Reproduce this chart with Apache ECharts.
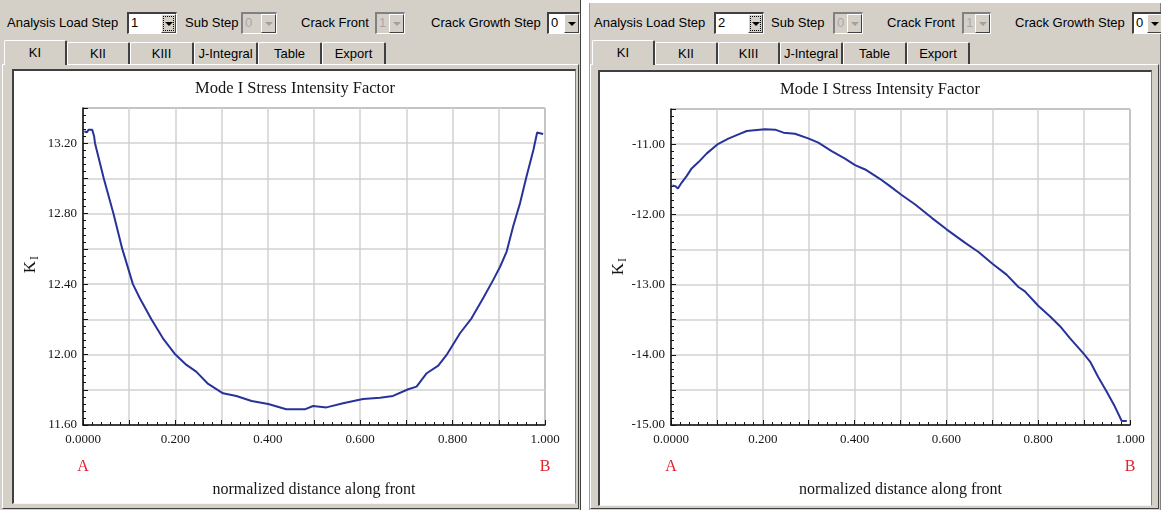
<!DOCTYPE html>
<html>
<head>
<meta charset="utf-8">
<script src="https://cdn.jsdelivr.net/npm/echarts@6/dist/echarts.min.js"></script>
<style>
  html, body { margin: 0; padding: 0; background: #ffffff; }
  #stage { position: relative; width: 1161px; height: 510px; overflow: hidden; }
  .panel { position: absolute; background: #d4d0c8; box-sizing: border-box; }
  .lbl { position: absolute; top: 15px; font: 13px "Liberation Sans", Arial, sans-serif; color: #000; line-height: 16px; white-space: nowrap; }
  .combo { position: absolute; top: 12px; height: 22px; box-sizing: border-box; background: #fff;
           border-top: 2px solid #404040; border-left: 2px solid #404040; border-right: 1px solid #ffffff; border-bottom: 1px solid #ffffff;
           font: 13px "Liberation Sans", Arial, sans-serif; }
  .combo.off { background: #d4d0c8; color: #a8a8a8; border-top-color: #808080; border-left-color: #808080; }
  .combo .val { position: absolute; left: 2px; top: 1px; line-height: 16px; }
  .combo .btn { position: absolute; right: 0; top: 0; bottom: 0; width: 15px; background: #d4d0c8; box-sizing: border-box;
                border-top: 1px solid #ffffff; border-left: 1px solid #ffffff; border-right: 1px solid #404040; border-bottom: 1px solid #404040; }
  .combo .btn.focus::before { content: ""; position: absolute; left: 1px; top: 1px; right: 1px; bottom: 1px; border: 1px dotted #000; }
  .combo .arr { position: absolute; left: 3px; top: 7px; width: 0; height: 0;
                border-left: 4px solid transparent; border-right: 4px solid transparent; border-top: 4px solid #000; }
  .combo.off .arr { border-top-color: #a0a0a0; }
  .tab { position: absolute; top: 42px; height: 22px; box-sizing: border-box; text-align: center;
         font: 13px "Liberation Sans", Arial, sans-serif; line-height: 22px; color: #000;
         border-top: 1px solid #ffffff; border-left: 1px solid #ffffff; border-right: 2px solid #404040;
         border-radius: 2px 2px 0 0; background: #d4d0c8; }
  .tab.sel { top: 40px; height: 25px; line-height: 23px; z-index: 2; }
  .page { position: absolute; box-sizing: border-box; border-top: 1px solid #ffffff; border-left: 1px solid #ffffff;
          border-right: 1px solid #404040; border-bottom: 1px solid #404040; }
  .plotbox { position: absolute; box-sizing: border-box; background: #ffffff;
             border-top: 2px solid #404040; border-left: 2px solid #404040; border-right: 1px solid #808080; border-bottom: 1px solid #f4f4f4; }
  #chart { position: absolute; left: 0; top: 0; width: 1161px; height: 510px; z-index: 5; }
</style>
</head>
<body>
<div id="stage">
  <div id="chrome"></div>
  <div id="chart"></div>
</div>
<script>
// ---- values read along the crack front ----
// Load step 1: normalized position and K_I
const posStep1 = [0.003, 0.008, 0.012, 0.020, 0.024, 0.026, 0.045, 0.066, 0.085, 0.108, 0.123, 0.148, 0.173, 0.200,
  0.224, 0.245, 0.271, 0.303, 0.332, 0.365, 0.401, 0.440, 0.480, 0.498, 0.527, 0.563, 0.606, 0.643, 0.671, 0.704,
  0.722, 0.744, 0.769, 0.787, 0.816, 0.841, 0.866, 0.888, 0.903, 0.917, 0.931, 0.946, 0.960, 0.975, 0.983, 0.989, 0.996];
const kiStep1 = [13.268, 13.262, 13.276, 13.276, 13.240, 13.200, 13.000, 12.800, 12.600, 12.400, 12.320, 12.200, 12.092, 12.000,
  11.941, 11.903, 11.833, 11.780, 11.765, 11.736, 11.719, 11.689, 11.689, 11.708, 11.700, 11.723, 11.748, 11.755, 11.765, 11.803,
  11.818, 11.894, 11.937, 11.998, 12.121, 12.206, 12.320, 12.424, 12.500, 12.585, 12.727, 12.860, 13.011, 13.163, 13.261, 13.257, 13.252];

// Load step 2: normalized position and K_I
const posStep2 = [0.003, 0.009, 0.015, 0.023, 0.034, 0.045, 0.060, 0.078, 0.101, 0.125, 0.147, 0.165, 0.187, 0.205, 0.227,
  0.245, 0.270, 0.299, 0.321, 0.350, 0.379, 0.401, 0.423, 0.455, 0.477, 0.501, 0.532, 0.568, 0.601, 0.641, 0.670, 0.701,
  0.731, 0.757, 0.771, 0.800, 0.826, 0.848, 0.869, 0.898, 0.913, 0.931, 0.949, 0.967, 0.982, 0.993];
const kiStep2 = [-11.589, -11.598, -11.632, -11.551, -11.456, -11.346, -11.256, -11.132, -11.004, -10.923, -10.861, -10.814,
  -10.799, -10.790, -10.794, -10.837, -10.852, -10.918, -10.980, -11.099, -11.208, -11.299, -11.361, -11.494, -11.598, -11.717,
  -11.860, -12.050, -12.217, -12.407, -12.536, -12.707, -12.859, -13.035, -13.097, -13.302, -13.454, -13.597, -13.763, -13.977,
  -14.096, -14.320, -14.524, -14.738, -14.943, -14.943];

// axis ranges (min, max, grid step)
const yRange1 = [11.6, 13.4, 0.2];
const yRange2 = [-15, -10.5, 0.5];
const xRange = [0, 1, 0.1];

// toolbar and tab captions
const loadSteps = ['1', '2'];
const tabNames = ['KI', 'KII', 'KIII', 'J-Integral', 'Table', 'Export'];
const titleText = 'Mode I Stress Intensity Factor';
const xName = 'normalized distance along front';
const endNames = ['A', 'B'];

// ---- window chrome (two dialog panels) ----
const panels = [
  { x: 0, y: 0, w: 581, h: 510, tabs: [4, 67, 130, 194, 258, 322, 386],
    page: [2, 64, 577, 445], box: [12, 69, 564, 435],
    lbl: [7, 185, 301, 431], cmb: [[127, 50], [241, 36], [375, 30], [547, 33]] },
  { x: 589, y: 3, w: 572, h: 507, tabs: [592, 655, 718, 780, 843, 907, 970],
    page: [590, 64, 569, 445], box: [598, 70, 554, 436],
    lbl: [594, 771, 887, 1015], cmb: [[714, 50], [833, 30], [962, 29], [1132, 31]] }
];
const chrome = document.getElementById('chrome');
function el(cls, css, html) {
  const d = document.createElement('div');
  d.className = cls;
  Object.assign(d.style, css);
  if (html !== undefined) d.innerHTML = html;
  chrome.appendChild(d);
  return d;
}
panels.forEach((p, pi) => {
  el('panel', { left: p.x + 'px', top: p.y + 'px', width: p.w + 'px', height: p.h + 'px',
    borderRight: pi === 0 ? '1px solid #404040' : '1px solid #808080',
    borderLeft: pi === 1 ? '1px solid #a0a0a0' : 'none' });
  const texts = ['Analysis Load Step', 'Sub Step', 'Crack Front', 'Crack Growth Step'];
  texts.forEach((t, i) => el('lbl', { left: p.lbl[i] + 'px' }, t));
  const vals = [loadSteps[pi], '0', '1', '0'];
  p.cmb.forEach((c, i) => {
    const off = (i === 1 || i === 2);
    el('combo' + (off ? ' off' : ''), { left: c[0] + 'px', width: c[1] + 'px' },
      '<span class="val">' + vals[i] + '</span><div class="btn' + (i === 0 ? ' focus' : '') + '"><div class="arr"></div></div>');
  });
  el('page', { left: p.page[0] + 'px', top: p.page[1] + 'px', width: p.page[2] + 'px', height: p.page[3] + 'px' });
  tabNames.forEach((t, i) => {
    el('tab' + (i === 0 ? ' sel' : ''), { left: p.tabs[i] + 'px', width: (p.tabs[i + 1] - p.tabs[i]) + 'px' }, t);
  });
  el('plotbox', { left: p.box[0] + 'px', top: p.box[1] + 'px', width: p.box[2] + 'px', height: p.box[3] + 'px' });
});

// ---- charts ----
const grids = [
  { left: 83, top: 108, width: 462, height: 317 },
  { left: 671, top: 109, width: 459, height: 316 }
];
const titleCenters = [290, 875];
const serif = '"Liberation Serif", "Times New Roman", serif';
const ink = '#161616';

function xAxisFor(i) {
  return {
    type: 'value', gridIndex: i, min: xRange[0], max: xRange[1], interval: xRange[2],
    name: xName, nameLocation: 'middle', nameGap: 57,
    nameTextStyle: { fontFamily: serif, fontSize: 16, color: ink },
    axisLine: { show: true, lineStyle: { color: '#111', width: 1.5 } },
    axisTick: { show: true, inside: true, length: 5, lineStyle: { color: '#111', width: 1 } },
    minorTick: { show: true, splitNumber: 5, length: 3, lineStyle: { color: '#111', width: 1 } },
    splitLine: { show: true, lineStyle: { color: '#d2d2d2', width: 1.5 } },
    axisLabel: {
      fontFamily: serif, fontSize: 13, color: ink, margin: 8, showMinLabel: true, showMaxLabel: true,
      formatter: v => {
        const k = Math.round(v * 10);
        if (k % 2 !== 0) return '';
        return k === 0 ? '0.0000' : (k / 10).toFixed(3);
      }
    }
  };
}
function yAxisFor(i, r) {
  return {
    type: 'value', gridIndex: i, min: r[0], max: r[1], interval: r[2],
    axisLine: { show: true, lineStyle: { color: '#111', width: 1.5 } },
    axisTick: { show: true, inside: true, length: 5, lineStyle: { color: '#111', width: 1 } },
    minorTick: { show: true, splitNumber: 5, length: 3, lineStyle: { color: '#111', width: 1 } },
    splitLine: { show: true, lineStyle: { color: '#d2d2d2', width: 1.5 } },
    axisLabel: {
      fontFamily: serif, fontSize: 13, color: ink, margin: 6, showMinLabel: true, showMaxLabel: true,
      formatter: v => {
        const k = Math.round((v - r[0]) / r[2]);
        return k % 2 === 0 ? v.toFixed(2) : '';
      }
    }
  };
}
function kiLabel(cx, cy) {
  return {
    type: 'group', x: cx, y: cy, rotation: Math.PI / 2, silent: true,
    children: [
      { type: 'text', x: -3, y: 0, style: { text: 'K', font: '17px ' + serif, fill: ink,
        textAlign: 'center', textVerticalAlign: 'middle', align: 'center', verticalAlign: 'middle' } },
      { type: 'text', x: 6, y: 4, style: { text: 'I', font: '12px ' + serif, fill: ink,
        textAlign: 'center', textVerticalAlign: 'middle', align: 'center', verticalAlign: 'middle' } }
    ]
  };
}
function endLabel(text, cx, cy) {
  return { type: 'text', x: cx, y: cy, silent: true,
    style: { text: text, font: '16px ' + serif, fill: '#e3222c',
      textAlign: 'center', textVerticalAlign: 'middle', align: 'center', verticalAlign: 'middle' } };
}

const chart = echarts.init(document.getElementById('chart'), null, { renderer: 'canvas' });
chart.setOption({
  backgroundColor: 'transparent',
  animation: false,
  title: titleCenters.map((c, i) => ({
    text: titleText, left: c, top: 75 + i, textAlign: 'center',
    textStyle: { fontFamily: serif, fontSize: 16.5, fontWeight: 'normal', color: ink }
  })),
  grid: grids.map(g => Object.assign({ show: true, borderColor: '#3c3c3c', borderWidth: 1, backgroundColor: 'transparent' }, g)),
  xAxis: [xAxisFor(0), xAxisFor(1)],
  yAxis: [yAxisFor(0, yRange1), yAxisFor(1, yRange2)],
  series: [
    { type: 'line', xAxisIndex: 0, yAxisIndex: 0, showSymbol: false, symbol: 'none',
      lineStyle: { color: '#28339a', width: 2 }, data: posStep1.map((x, i) => [x, kiStep1[i]]) },
    { type: 'line', xAxisIndex: 1, yAxisIndex: 1, showSymbol: false, symbol: 'none',
      lineStyle: { color: '#28339a', width: 2 }, data: posStep2.map((x, i) => [x, kiStep2[i]]) }
  ],
  graphic: [
    kiLabel(31, 264),
    kiLabel(619, 266),
    endLabel(endNames[0], grids[0].left, 467),
    endLabel(endNames[1], grids[0].left + grids[0].width, 467),
    endLabel(endNames[0], grids[1].left, 467),
    endLabel(endNames[1], grids[1].left + grids[1].width, 467)
  ]
});
</script>
</body>
</html>
